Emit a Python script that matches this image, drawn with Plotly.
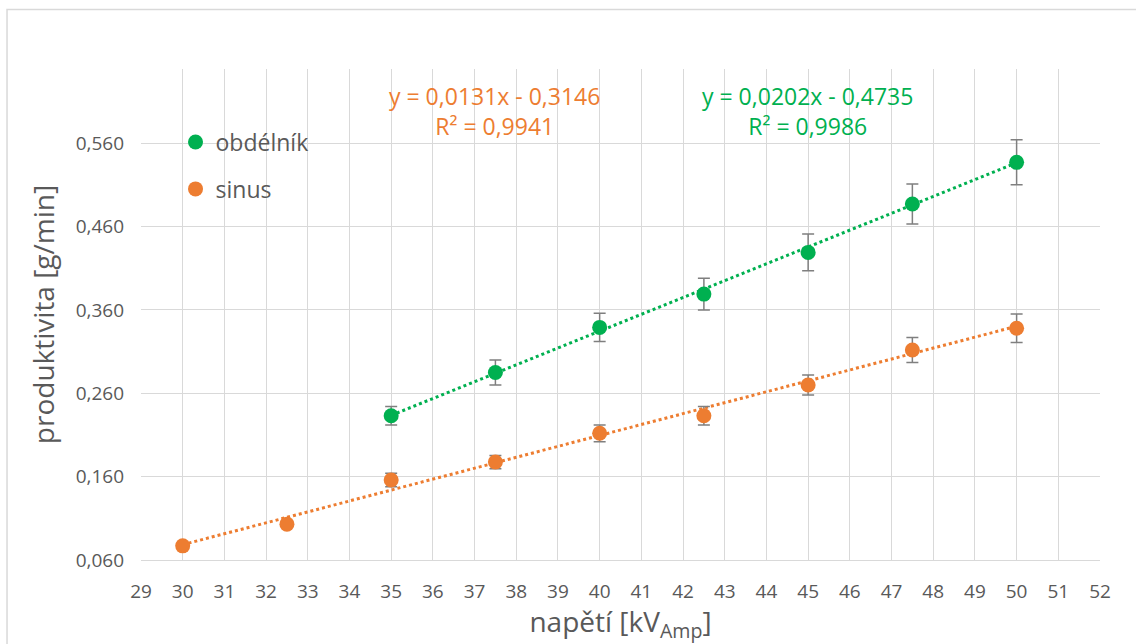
import plotly.graph_objects as go
import numpy as np

# data
x_obd = [35, 37.5, 40, 42.5, 45, 47.5, 50]
y_obd = [0.233, 0.285, 0.339, 0.379, 0.429, 0.487, 0.537]
err_obd = [0.011, 0.015, 0.017, 0.019, 0.022, 0.024, 0.027]

x_sin = [30, 32.5, 35, 37.5, 40, 42.5, 45, 47.5, 50]
y_sin = [0.077, 0.103, 0.156, 0.1775, 0.212, 0.233, 0.270, 0.312, 0.338]
err_sin = [0, 0, 0.008, 0.008, 0.010, 0.011, 0.012, 0.015, 0.017]

fit_obd = (0.0202, -0.4735)
fit_sin = (0.0131, -0.3146)

x_ticks = list(range(29, 53))
y_ticks = [0.060, 0.160, 0.260, 0.360, 0.460, 0.560]

GREEN = "#00b050"
ORANGE = "#ed7d31"
TXT = "#595959"
FONT = "Open Sans"

fig = go.Figure()

# trendlines
for xs, (a, b), col in [(x_sin, fit_sin, ORANGE), (x_obd, fit_obd, GREEN)]:
    xl = np.array([min(xs), max(xs)])
    fig.add_trace(go.Scatter(x=xl, y=a * xl + b, mode="lines",
                             line=dict(color=col, width=3, dash="dot"),
                             showlegend=False, hoverinfo="skip"))

fig.add_trace(go.Scatter(
    x=x_obd, y=y_obd, mode="markers", name="obdélník", legendgroup="a",
    marker=dict(color=GREEN, size=15),
    error_y=dict(type="data", array=err_obd, color="#7f7f7f", thickness=1.5, width=6)))
fig.add_trace(go.Scatter(
    x=x_sin, y=y_sin, mode="markers", name="sinus", legendgroup="b",
    marker=dict(color=ORANGE, size=15),
    error_y=dict(type="data", array=err_sin, color="#7f7f7f", thickness=1.5, width=6)))

fig.add_annotation(x=0.369, y=1.0, xref="paper", yref="paper", xanchor="center", yanchor="bottom",
                   text="y = 0,0131x - 0,3146<br>R² = 0,9941", showarrow=False,
                   font=dict(family=FONT, size=23, color=ORANGE), align="center", yshift=-75)
fig.add_annotation(x=0.695, y=1.0, xref="paper", yref="paper", xanchor="center", yanchor="bottom",
                   text="y = 0,0202x - 0,4735<br>R² = 0,9986", showarrow=False,
                   font=dict(family=FONT, size=23, color=GREEN), align="center", yshift=-75)

fig.update_layout(
    width=1136, height=644,
    margin=dict(l=141, r=36, t=69, b=84),
    paper_bgcolor="white", plot_bgcolor="white",
    separators=",.",
    font=dict(family=FONT, color=TXT),
    legend=dict(x=0.036, y=0.895, xanchor="left", yanchor="top",
                font=dict(size=23, color=TXT), bgcolor="rgba(0,0,0,0)",
                tracegroupgap=14, itemwidth=30),
    xaxis=dict(range=[29, 52], tickvals=x_ticks, ticktext=[str(v) for v in x_ticks],
               showgrid=True, gridcolor="#d9d9d9", gridwidth=1, automargin=False,
               showline=True, linecolor="#d9d9d9", linewidth=1, mirror=False,
               zeroline=False, ticks="", tickfont=dict(size=19, color=TXT), ticklabelstandoff=14,
               title=dict(text="napětí [kV<sub>Amp</sub>]", font=dict(size=28, color=TXT), standoff=12)),
    yaxis=dict(range=[0.06, 0.649], tickvals=y_ticks, tickformat=".3f",
               showgrid=True, gridcolor="#d9d9d9", gridwidth=1, automargin=False,
               showline=False, zeroline=False, ticks="",
               tickfont=dict(size=19, color=TXT), ticklabelstandoff=16,
               title=dict(text="produktivita [g/min]", font=dict(size=28, color=TXT), standoff=12)),
)

fig.add_shape(type="rect", xref="paper", yref="paper",
              x0=-0.1397, y0=-0.2, x1=1.05, y1=1.121,
              line=dict(color="#d9d9d9", width=1.5), layer="below")

fig.write_html("out.html")
